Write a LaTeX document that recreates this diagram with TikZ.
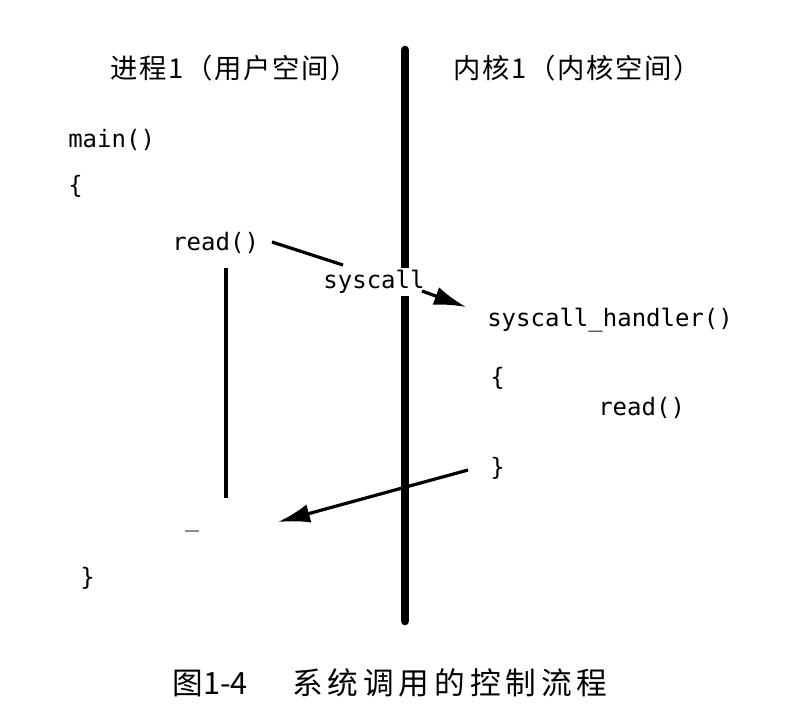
\documentclass[tikz,border=0pt]{standalone}
\usepackage{fontspec}
\newfontfamily\cjk[LetterSpace=6]{Noto Sans CJK SC}
\newfontfamily\cjkplain{Noto Sans CJK SC}
\newfontfamily\cjkcap[LetterSpace=16]{Noto Sans CJK SC}
\setmonofont{DejaVu Sans Mono}
\usetikzlibrary{arrows.meta}
\begin{document}
\begin{tikzpicture}[x=0.75pt,y=-0.75pt,
  code/.style={font=\ttfamily\fontsize{18}{20}\selectfont,inner sep=0pt,anchor=west},
  head/.style={font=\cjk\fontsize{20.5}{24}\selectfont,inner sep=0pt},
  conn/.style={line width=2.4pt},
  arr/.style={line width=2.4pt,-{Latex[length=24pt,width=14pt]}}]
\useasboundingbox (0,0) rectangle (788,704);
% titles
\node[head] (t1) at (234,68) {进程1（用户空间）};
\node[head] (t2) at (577,68) {内核1（内核空间）};
% divider
\coordinate (dtop) at (405,50);
\coordinate (dbot) at (405,621);
\draw[line width=6.5pt,line cap=round] (dtop) -- (dbot);
% user code
\node[code] (main) at (68,140) {main()};
\node[code] (ob1) at (68,186) {\{};
\node[code] (rd1) at (172,243) {read()};
\coordinate (vt) at (226,268);
\coordinate (vb) at (226,498);
\draw[line width=3pt] (vt) -- (vb);
\node[text=black!45,inner sep=0pt] (dash) at (192,531) {\rule{10pt}{1.6pt}};
\node[code] (cb1) at (80,578) {\}};
% syscall
\node[code,anchor=center,fill=white,inner sep=2pt] (sys) at (374,282) {syscall};
\coordinate (s1) at (272,242);
\coordinate (s2) at (343,265);
\draw[conn] (s1) -- (s2);
\coordinate (a1) at (422,291);
\coordinate (a2) at (466,307);
\draw[arr] (a1) -- (a2);
% kernel code
\node[code] (sh) at (487,320) {syscall\_handler()};
\node[code] (ob2) at (490,378) {\{};
\node[code] (rd2) at (598,408) {read()};
\node[code] (cb2) at (490,468) {\}};
% return arrow
\coordinate (r1) at (468,470);
\coordinate (r2) at (278,522);
\draw[arr] (r1) -- (r2);
% caption
\node[font=\fontsize{23}{26}\selectfont,inner sep=0pt] (cap) at (390,683) {{\cjkplain 图1-4}\hspace{1.45em}{\cjkcap 系统调用的控制流程}};
\end{tikzpicture}
\end{document}
